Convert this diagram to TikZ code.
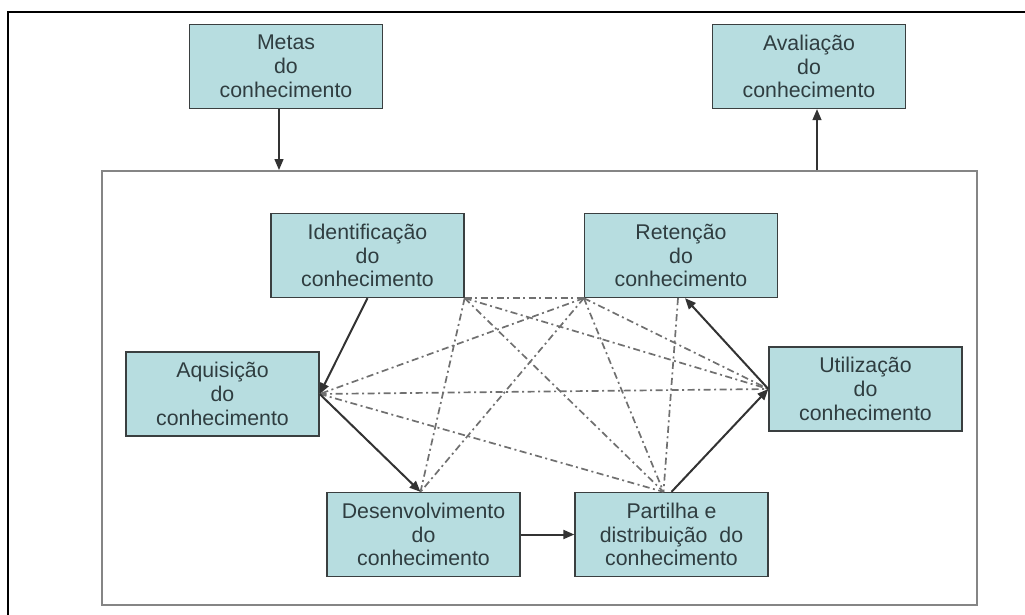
\documentclass[tikz,border=0pt]{standalone}
\usepackage{fontspec}
\setmainfont{Liberation Sans}
\setsansfont{Liberation Sans}
\usetikzlibrary{arrows.meta,calc}
\definecolor{boxfill}{HTML}{B7DDE0}
\definecolor{boxline}{HTML}{3A3F40}
\definecolor{txt}{HTML}{2F3D40}
\definecolor{framegray}{HTML}{858585}
\definecolor{dashgray}{HTML}{707070}
\definecolor{arrowgray}{HTML}{333333}
\tikzset{
  kbox/.style={draw=boxline, fill=boxfill, line width=1.3pt, minimum width=193pt,
    minimum height=84pt, inner sep=0pt, align=center, text=txt,
    font=\fontsize{21.3pt}{23.8pt}\selectfont},
  solidarrow/.style={draw=arrowgray, line width=2pt, -{Triangle[length=11pt,width=9pt]}},
  thinarrow/.style={draw=arrowgray, line width=1.4pt, -{Triangle[length=11pt,width=9pt]}},
  dd/.style={draw=dashgray, line width=1.7pt, dash pattern=on 7pt off 3.5pt on 2pt off 3.5pt},
  frameline/.style={draw=framegray, line width=2pt}
}
\begin{document}
\begin{tikzpicture}[x=1pt,y=-1pt]
\useasboundingbox (0,0) rectangle (1025,615);
% outer frame
\draw[black, line width=2.8pt] (8,616) -- (8,12) -- (1026,12);
% inner frame
\node[frameline, minimum width=875pt, minimum height=434pt, inner sep=0pt] (frame) at (539.5,388) {};
% boxes
\node[kbox] (metas) at (286,66.5) {Metas\\do\\conhecimento};
\node[kbox] (aval) at (809,66.5) {Avaliação\\do\\conhecimento};
\node[kbox] (ident) at (367.5,255.5) {Identificação\\do\\conhecimento};
\node[kbox] (ret) at (681,255.5) {Retenção\\do\\conhecimento};
\node[kbox] (aq) at (222.5,394) {Aquisição\\do\\conhecimento};
\node[kbox] (ut) at (865.5,389) {Utilização\\do\\conhecimento};
\node[kbox] (des) at (423.5,534.5) {Desenvolvimento\\do\\conhecimento};
\node[kbox] (par) at (671.5,534.5) {Partilha e\\distribuição\ \ do\\conhecimento};
% top arrows
\draw[thinarrow] ([xshift=-7pt]metas.south) -- ([xshift=-7pt]metas.south |- frame.north);
\draw[thinarrow] ([xshift=8pt]aval.south |- frame.north) -- ([xshift=8pt]aval.south);
% dash-dot relations
\coordinate (A) at (ident.south east);
\coordinate (B) at (ret.south west);
\coordinate (C) at (aq.east);
\coordinate (D) at (ut.west);
\coordinate (E) at ([xshift=-3pt]des.north);
\coordinate (F) at ([xshift=-8pt]par.north);
\coordinate (G) at ([xshift=-3pt]ret.south);
\draw[dd] (A) -- (B);
\draw[dd] (A) -- (D);
\draw[dd] (A) -- (E);
\draw[dd] (A) -- (F);
\draw[dd] (B) -- (C);
\draw[dd] (B) -- (D);
\draw[dd] (B) -- (E);
\draw[dd] (B) -- (F);
\draw[dd] (C) -- (D);
\draw[dd] (C) -- (F);
\draw[dd] (G) -- (F);
% solid cycle arrows
\draw[solidarrow] (ident.south) -- (aq.east);
\draw[solidarrow] (aq.east) -- (E);
\draw[solidarrow] (des.east) -- (par.west);
\draw[solidarrow] (par.north) -- (ut.west);
\draw[solidarrow] (ut.west) -- ([xshift=4pt]ret.south);
\end{tikzpicture}
\end{document}
